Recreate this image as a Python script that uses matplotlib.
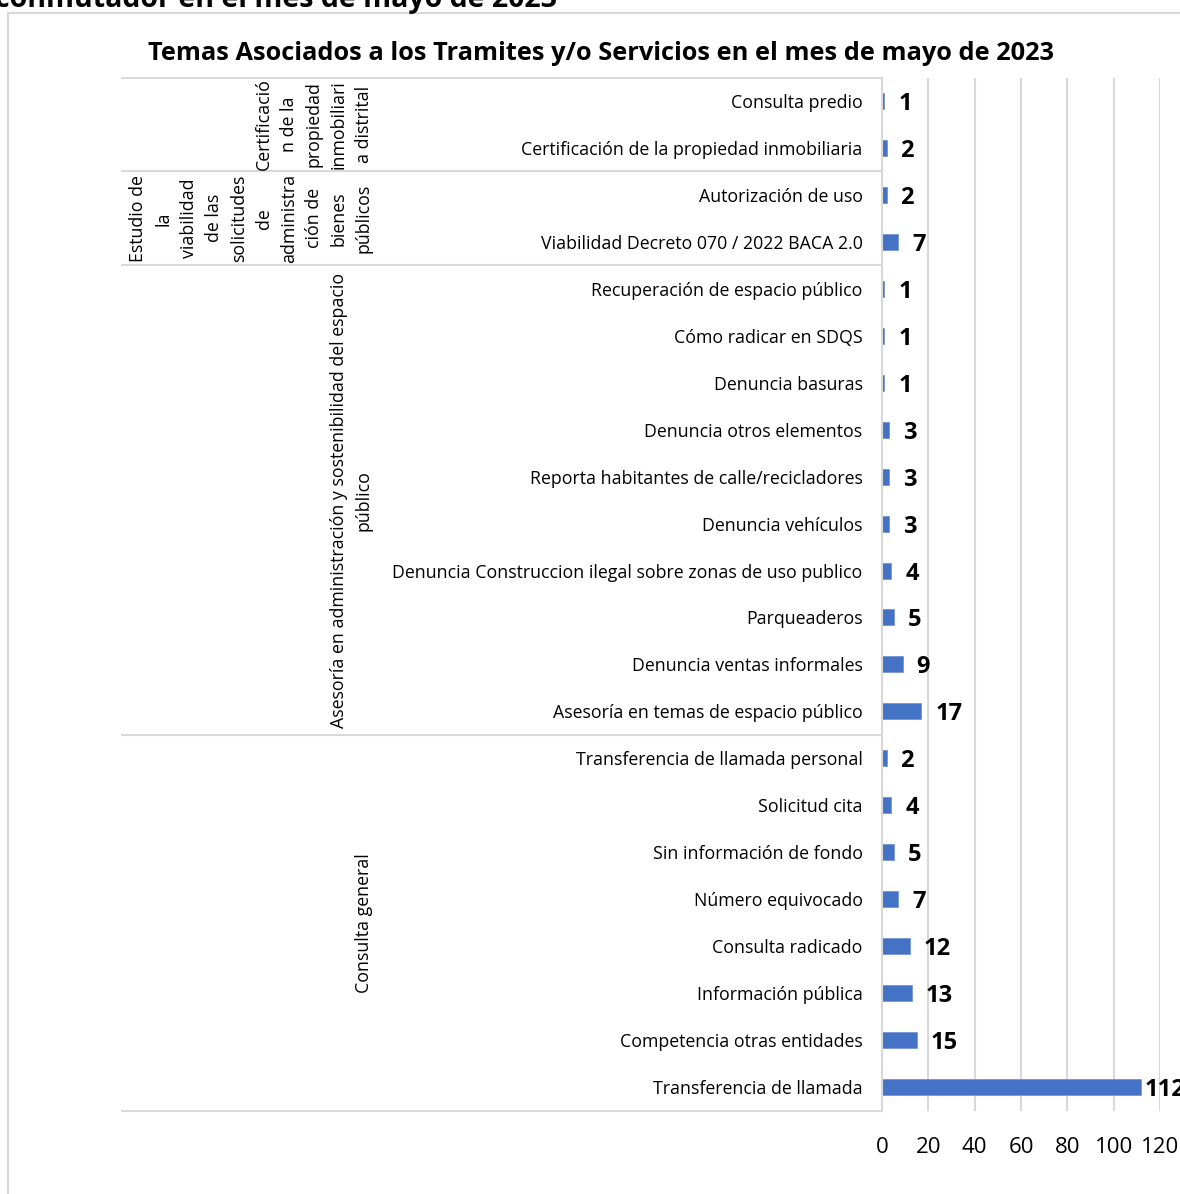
import matplotlib
matplotlib.use('Agg')
import matplotlib.pyplot as plt
from matplotlib.lines import Line2D
import numpy as np

plt.rcParams['font.family'] = ['Open Sans', 'DejaVu Sans']

# Grupos (nivel externo del eje de categorias), ya partidos como en Excel
grupos = ['Certificació\nn de la\npropiedad\ninmobiliari\na distrital',
          'Estudio de\nla\nviabilidad\nde las\nsolicitudes\nde\nadministra\nción de\nbienes\npúblicos',
          'Asesoría en administración y sostenibilidad del espacio\npúblico',
          'Consulta general']
tamanos = [2, 2, 10, 8]

temas = ['Consulta predio',
         'Certificación de la propiedad inmobiliaria',
         'Autorización de uso',
         'Viabilidad Decreto 070 / 2022 BACA 2.0',
         'Recuperación de espacio público',
         'Cómo radicar en SDQS',
         'Denuncia basuras',
         'Denuncia otros elementos',
         'Reporta habitantes de calle/recicladores',
         'Denuncia vehículos',
         'Denuncia Construccion ilegal sobre zonas de uso publico',
         'Parqueaderos',
         'Denuncia ventas informales',
         'Asesoría en temas de espacio público',
         'Transferencia de llamada personal',
         'Solicitud cita',
         'Sin información de fondo',
         'Número equivocado',
         'Consulta radicado',
         'Información pública',
         'Competencia otras entidades',
         'Transferencia de llamada']
valores = [1, 2, 2, 7, 1, 1, 1, 3, 3, 3, 4, 5, 9, 17, 2, 4, 5, 7, 12, 13, 15, 112]

titulo = 'Temas Asociados a los Tramites y/o Servicios en el mes de mayo de 2023'
titulo_arriba = 'conmutador en el mes de mayo de 2023'

gris = '#d9d9d9'
azul = '#4472C4'

W, H = 1180, 1194
fig = plt.figure(figsize=(W / 100, H / 100), dpi=100)
ax = fig.add_axes([882 / W, 1 - 1110.5 / H, 278 / W, 1033 / H])

y = np.arange(len(temas))
ax.barh(y, valores, height=0.34, color=azul, edgecolor='#7595d3', linewidth=0.6)

ax.set_xlim(0, 120)
ax.set_ylim(len(temas) - 0.5, -0.5)
ax.set_xticks(range(0, 121, 20))
ax.set_yticks(y, temas)
ax.tick_params(axis='y', length=0, pad=14, labelsize=12.8)
ax.tick_params(axis='x', length=0, pad=19, labelsize=16)
ax.grid(axis='x', color=gris, linewidth=1.5)
ax.set_axisbelow(True)
for s in ['top', 'right', 'bottom']:
    ax.spines[s].set_visible(False)
ax.spines['left'].set_color(gris)
ax.spines['left'].set_linewidth(1.5)

# etiquetas de datos
vmax = max(valores)
for yi, v in zip(y, valores):
    pad = 2.5 if v == vmax else 10
    ax.annotate(str(v), (v, yi), xytext=(pad, 0), textcoords='offset points',
                ha='left', va='center_baseline', fontsize=17, fontweight='bold',
                annotation_clip=False)

# separadores de grupos y etiquetas de grupo
x_izq = (122 - 882) / 278
x_grp = (373 - 882) / 278
tr = ax.get_yaxis_transform()
limites = np.concatenate([[0], np.cumsum(tamanos)])
for b in limites:
    ax.plot([x_izq, 0], [b - 0.5, b - 0.5], transform=tr, color=gris,
            linewidth=1.5, clip_on=False)
for nombre, a, b in zip(grupos, limites[:-1], limites[1:]):
    ax.text(x_grp, (a + b - 1) / 2, nombre, transform=tr, rotation=90,
            ha='right', va='center', multialignment='center',
            fontsize=12.8, linespacing=1.505)

fig.text(601 / W, 1 - 53 / H, titulo, ha='center', va='center',
         fontsize=18.3, fontweight='bold')
fig.text(557 / W, 1 - 7 / H, titulo_arriba, ha='right', va='baseline',
         fontsize=20.5, fontweight='bold')

# borde del area del grafico (recortado)
ytop = 1 - 12.5 / H
fig.add_artist(Line2D([8 / W, 1], [ytop, ytop], color=gris, linewidth=1.5))
fig.add_artist(Line2D([8 / W, 8 / W], [0, ytop], color=gris, linewidth=1.5))

fig.savefig('out.png', dpi=100)
